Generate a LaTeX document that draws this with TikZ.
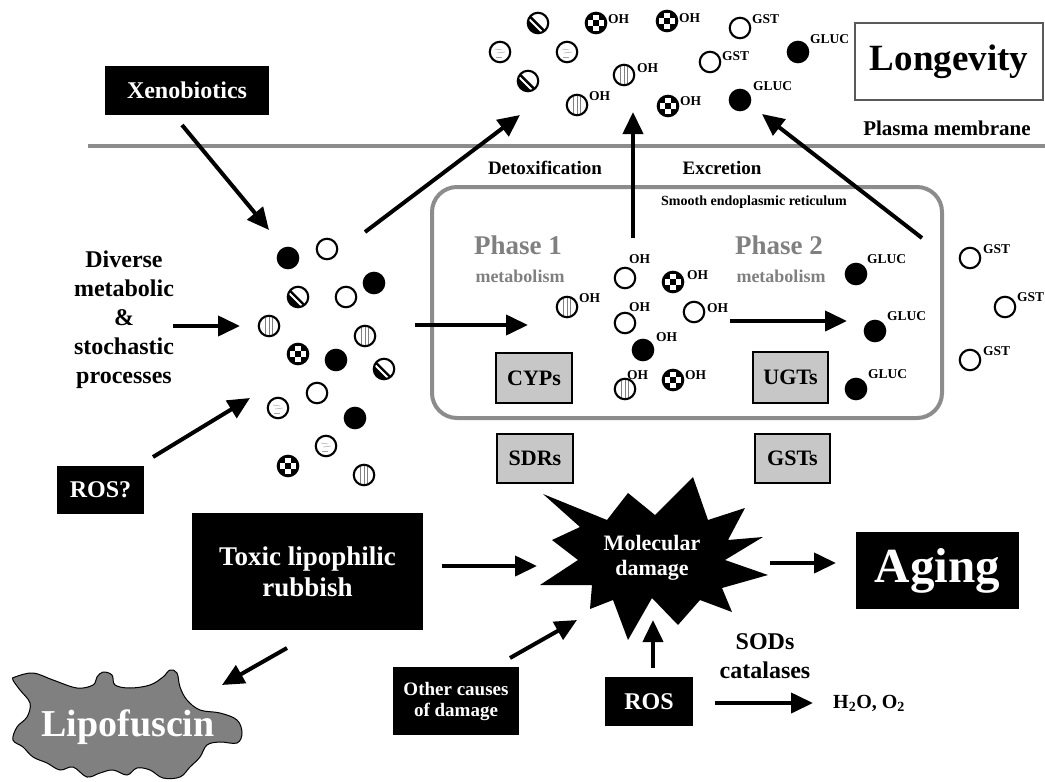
\documentclass[tikz,border=0pt]{standalone}
\usepackage{fontspec}
\setmainfont{Liberation Serif}
\usetikzlibrary{arrows.meta,shapes.geometric}
\definecolor{memgray}{gray}{0.55}
\definecolor{boxgray}{gray}{0.78}
\definecolor{phgray}{gray}{0.5}
\definecolor{lipogray}{gray}{0.5}
\tikzset{
  mol/.style={circle, draw=black, line width=2.1pt, minimum size=20.5pt, inner sep=0pt, fill=white},
  molopen/.style={mol},
  molfill/.style={mol, fill=black},
  molvert/.style={mol, path picture={
     \foreach \dx in {-3.5,0,3.5}{\draw[gray,line width=0.6pt] ([shift={(\dx pt,-11pt)}]path picture bounding box.center) -- ([shift={(\dx pt,11pt)}]path picture bounding box.center);}}},
  molcheck/.style={mol, fill=black, path picture={
     \fill[white] ([shift={(-2.7pt,2.7pt)}]path picture bounding box.center) rectangle ++(5.4pt,5.4pt);
     \fill[white] ([shift={(-2.7pt,-8.1pt)}]path picture bounding box.center) rectangle ++(5.4pt,5.4pt);
     \fill[white] ([shift={(2.7pt,-2.7pt)}]path picture bounding box.center) rectangle ++(5.4pt,5.4pt);
     \fill[white] ([shift={(-8.1pt,-2.7pt)}]path picture bounding box.center) rectangle ++(5.4pt,5.4pt);}},
  molhalf/.style={mol, path picture={
     \fill[black] ([shift={(-13pt,13pt)}]path picture bounding box.center) -- ([shift={(13pt,-13pt)}]path picture bounding box.center) -- ([shift={(-13pt,-13pt)}]path picture bounding box.center) -- cycle;
     \draw[white,line width=1.8pt] ([shift={(-15pt,10pt)}]path picture bounding box.center) -- ([shift={(10pt,-15pt)}]path picture bounding box.center);}},
  molwavy/.style={mol, path picture={
     \draw[gray!70,line width=0.5pt] ([shift={(-5pt,3pt)}]path picture bounding box.center) -- ++(7pt,-1pt);
     \draw[gray!70,line width=0.5pt] ([shift={(-3pt,-1pt)}]path picture bounding box.center) -- ++(8pt,1pt);
     \draw[gray!70,line width=0.5pt] ([shift={(-4pt,-5pt)}]path picture bounding box.center) -- ++(6pt,0pt);}},
  lab/.style={font=\fontsize{13.5}{13.5}\selectfont\bfseries, inner sep=0pt, anchor=base west},
  blackbox/.style={fill=black, text=white, inner sep=0pt, align=center},
  graybox/.style={fill=boxgray, draw=black, line width=2.2pt, inner sep=0pt, font=\fontsize{22}{22}\selectfont\bfseries},
  txt/.style={inner sep=0pt, align=center},
  arr/.style={line width=4pt, -{Triangle[length=22pt,width=20pt]}},
}
\begin{document}
\begin{tikzpicture}[x=1pt,y=-1pt]
\path[use as bounding box] (0,0) rectangle (1045,782);

% plasma membrane
\coordinate (memL) at (88,146);
\coordinate (memR) at (1045,146);
\draw[memgray, line width=4pt] (memL) -- (memR);
\node[txt, font=\fontsize{21}{21}\selectfont\bfseries] (plasma) at (947,128) {Plasma membrane};

% Longevity
\node[draw=gray!70!black, line width=1.5pt, minimum width=188pt, minimum height=77pt, inner sep=0pt, font=\fontsize{37}{37}\selectfont\bfseries] (longevity) at (949,61.5) {Longevity};

% Xenobiotics
\node[blackbox, minimum width=164pt, minimum height=49pt, font=\fontsize{24}{24}\selectfont\bfseries] (xeno) at (187,90.5) {Xenobiotics};

% Diverse
\node[txt, font=\fontsize{24}{29}\selectfont\bfseries] (diverse) at (124,320) {Diverse\\metabolic\\\&\\stochastic\\processes};

% ROS?
\node[blackbox, minimum width=87pt, minimum height=48pt, font=\fontsize{24}{24}\selectfont\bfseries] (rosq) at (100.5,490) {ROS?};

% cluster of molecules
\node[molfill]  (c1)  at (288,258) {};
\node[molopen]  (c2)  at (327,249) {};
\node[molfill]  (c3)  at (374,283) {};
\node[molhalf]  (c4)  at (298,297) {};
\node[molopen]  (c5)  at (346,297) {};
\node[molvert]  (c6)  at (269,326) {};
\node[molvert]  (c7)  at (365,336) {};
\node[molcheck] (c8)  at (298,354) {};
\node[molfill]  (c9)  at (336,360) {};
\node[molhalf]  (c10) at (384,369) {};
\node[molopen]  (c11) at (317,393) {};
\node[molwavy]  (c12) at (278,408) {};
\node[molfill]  (c13) at (355,418) {};
\node[molwavy]  (c14) at (326,446) {};
\node[molcheck] (c15) at (288,466) {};
\node[molvert]  (c16) at (364,475) {};

% top molecules (outside the cell)
\node[molhalf]  (t1)  at (538,23) {};
\node[molcheck] (t2)  at (596,23) {};
\node[lab] (t2l) at (608,23) {OH};
\node[molwavy]  (t3)  at (500,52) {};
\node[molwavy]  (t4)  at (567,52) {};
\node[molhalf]  (t5)  at (528,81) {};
\node[molvert]  (t6)  at (624,75) {};
\node[lab] (t6l) at (637,72) {OH};
\node[molvert]  (t7)  at (577,105) {};
\node[lab] (t7l) at (589,100) {OH};
\node[molcheck] (t8)  at (667,21) {};
\node[lab] (t8l) at (679,22) {OH};
\node[molcheck] (t9)  at (668,106) {};
\node[lab] (t9l) at (680,105) {OH};
\node[molopen]  (t10) at (740,28) {};
\node[lab] (t10l) at (752,23) {GST};
\node[molopen]  (t11) at (710,62) {};
\node[lab] (t11l) at (722,60) {GST};
\node[molfill]  (t12) at (798,52) {};
\node[lab] (t12l) at (810,43) {GLUC};
\node[molfill]  (t13) at (740,100) {};
\node[lab] (t13l) at (753,90) {GLUC};

% Detoxification / Excretion
\node[txt, font=\fontsize{19}{19}\selectfont\bfseries] (detox) at (545,168) {Detoxification};
\node[txt, font=\fontsize{19}{19}\selectfont\bfseries] (excr) at (722,168) {Excretion};

% ER
\node[draw=memgray, line width=4pt, rounded corners=25pt, minimum width=510pt, minimum height=231pt, inner sep=0pt] (er) at (687,302.5) {};
\node[txt, font=\fontsize{14}{14}\selectfont\bfseries] (erlab) at (754,202) {Smooth endoplasmic reticulum};
\node[txt, text=phgray, font=\fontsize{27}{27}\selectfont\bfseries] (ph1) at (518,245) {Phase 1};
\node[txt, text=phgray, font=\fontsize{18}{18}\selectfont\bfseries] (ph1m) at (520,276) {metabolism};
\node[txt, text=phgray, font=\fontsize{27}{27}\selectfont\bfseries] (ph2) at (779,245) {Phase 2};
\node[txt, text=phgray, font=\fontsize{18}{18}\selectfont\bfseries] (ph2m) at (781,276) {metabolism};

% ER molecules
\node[molvert]  (e1) at (567,307) {};
\node[lab] (e1l) at (579,302) {OH};
\node[molopen]  (e2) at (625,278) {};
\node[lab] (e2l) at (629,263) {OH};
\node[molcheck] (e3) at (673,282) {};
\node[lab] (e3l) at (687,279) {OH};
\node[molopen]  (e4) at (625,323) {};
\node[lab] (e4l) at (629,311) {OH};
\node[molopen]  (e5) at (694,312) {};
\node[lab] (e5l) at (707,312) {OH};
\node[molfill]  (e6) at (643,350) {};
\node[lab] (e6l) at (656,341) {OH};
\node[molvert]  (e7) at (625,389) {};
\node[lab] (e7l) at (627,379) {OH};
\node[molcheck] (e8) at (673,380) {};
\node[lab] (e8l) at (685,379) {OH};

\node[molfill] (g1) at (856,274) {};
\node[lab] (g1l) at (867,263) {GLUC};
\node[molfill] (g2) at (875,331) {};
\node[lab] (g2l) at (887,320) {GLUC};
\node[molfill] (g3) at (856,389) {};
\node[lab] (g3l) at (868,378) {GLUC};

\node[molopen] (s1) at (970,258) {};
\node[lab] (s1l) at (983,253) {GST};
\node[molopen] (s2) at (1005,307) {};
\node[lab] (s2l) at (1017,301) {GST};
\node[molopen] (s3) at (970,360) {};
\node[lab] (s3l) at (983,355) {GST};

% enzyme boxes
\node[graybox, minimum width=76pt, minimum height=50pt] (cyp) at (534,378) {CYPs};
\node[graybox, minimum width=75pt, minimum height=51pt] (ugt) at (790.5,377.5) {UGTs};
\node[graybox, minimum width=76pt, minimum height=49pt] (sdr) at (535,458.5) {SDRs};
\node[graybox, minimum width=75pt, minimum height=49pt] (gst) at (792.5,458.5) {GSTs};

% Molecular damage star
\fill[black] (543,494) -- (607,520) -- (628,493) -- (655,515) -- (693,477) -- (708,520)
  -- (745,508) -- (728,540) -- (763,537) -- (725,560) -- (768,575) -- (722,588)
  -- (732,612) -- (700,600) -- (678,625) -- (652,598) -- (628,640) -- (613,600)
  -- (590,609) -- (592,585) -- (540,585) -- (578,560) -- (552,540) -- (580,527) -- cycle;
\node[txt, text=white, font=\fontsize{22}{25}\selectfont\bfseries] (damage) at (652,558) {Molecular\\damage};

% Toxic lipophilic rubbish
\node[blackbox, minimum width=231pt, minimum height=117pt, font=\fontsize{27}{31}\selectfont\bfseries] (toxic) at (307.5,571.5) {Toxic lipophilic\\rubbish};

% Other causes
\node[blackbox, minimum width=126pt, minimum height=68pt, font=\fontsize{19}{21}\selectfont\bfseries] (other) at (456,701) {Other causes\\of damage};

% ROS
\node[blackbox, minimum width=88pt, minimum height=49pt, font=\fontsize{24}{24}\selectfont\bfseries] (ros) at (649,701.5) {ROS};

% Aging
\node[blackbox, minimum width=163pt, minimum height=77pt, font=\fontsize{49}{49}\selectfont\bfseries] (aging) at (937.5,570.5) {Aging};

% SODs
\node[txt, font=\fontsize{24}{29}\selectfont\bfseries] (sods) at (765,656) {SODs\\catalases};
\node[inner sep=0pt, anchor=west, font=\fontsize{20}{20}\selectfont\bfseries] (h2o) at (833,703) {H\textsubscript{2}O, O\textsubscript{2}};

% Lipofuscin
\draw[fill=lipogray, line width=1pt] plot[smooth cycle, tension=0.6] coordinates {
 (15,677) (33,673) (53,680) (77,688) (93,685) (97,677) (103,672) (112,675) (115,685)
 (130,688) (150,685) (163,677) (170,670) (177,673) (180,687) (187,700) (200,710)
 (220,713) (237,720) (242,733) (237,743) (220,742) (207,745) (200,757) (190,767)
 (180,777) (163,778) (150,770) (137,768) (127,775) (113,770) (100,773) (87,777)
 (73,767) (60,770) (47,763) (33,757) (23,747) (13,740) (17,727) (27,717) (30,703)
 (20,690) (13,680)};
\node[txt, text=white, font=\fontsize{38}{38}\selectfont\bfseries] (lipo) at (128,727) {Lipofuscin};

% arrow end points
\coordinate (a1s) at (182,125);  \coordinate (a1e) at (269,230);
\coordinate (a2s) at (173,326);  \coordinate (a2e) at (240,326);
\coordinate (a3s) at (153,457);  \coordinate (a3e) at (250,398);
\coordinate (a4s) at (365,232);  \coordinate (a4e) at (520,115);
\coordinate (a5s) at (415,325);  \coordinate (a5e) at (528,325);
\coordinate (a6s) at (633,238);  \coordinate (a6e) at (633,112);
\coordinate (a7s) at (922,238);  \coordinate (a7e) at (762,114);
\coordinate (a8s) at (730,321);  \coordinate (a8e) at (847,321);
\coordinate (a9s) at (442,566);  \coordinate (a9e) at (537,566);
\coordinate (a10s) at (287,648); \coordinate (a10e) at (222,685);
\coordinate (a11s) at (510,658); \coordinate (a11e) at (577,620);
\coordinate (a12s) at (653,668); \coordinate (a12e) at (653,620);
\coordinate (a13s) at (770,563); \coordinate (a13e) at (836,563);
\coordinate (a14s) at (715,703); \coordinate (a14e) at (813,703);

\draw[arr] (a1s) -- (a1e);
\draw[arr] (a2s) -- (a2e);
\draw[arr] (a3s) -- (a3e);
\draw[arr] (a4s) -- (a4e);
\draw[arr] (a5s) -- (a5e);
\draw[arr] (a6s) -- (a6e);
\draw[arr] (a7s) -- (a7e);
\draw[arr] (a8s) -- (a8e);
\draw[arr] (a9s) -- (a9e);
\draw[arr] (a10s) -- (a10e);
\draw[arr] (a11s) -- (a11e);
\draw[arr] (a12s) -- (a12e);
\draw[arr] (a13s) -- (a13e);
\draw[arr] (a14s) -- (a14e);
\end{tikzpicture}
\end{document}
